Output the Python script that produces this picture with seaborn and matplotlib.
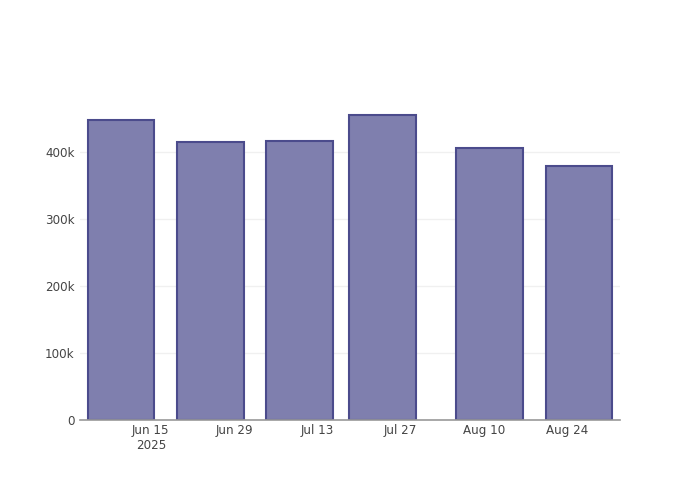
import pandas as pd
import matplotlib
matplotlib.use("Agg")
import matplotlib.pyplot as plt
import matplotlib.dates as mdates
from matplotlib.ticker import FuncFormatter
import seaborn as sns

# values
dates = ["2025-06-10", "2025-06-25", "2025-07-10", "2025-07-24", "2025-08-11", "2025-08-26"]
values = [448000, 415500, 417000, 455000, 407000, 380000]
tick_dates = ["2025-06-15", "2025-06-29", "2025-07-13", "2025-07-27", "2025-08-10", "2025-08-24"]
tick_labels = ["Jun 15\n2025", "Jun 29", "Jul 13", "Jul 27", "Aug 10", "Aug 24"]
y_ticks = [0, 100000, 200000, 300000, 400000]

sns.set_style("white")
plt.rcParams["font.family"] = ["DejaVu Sans"]

df = pd.DataFrame({"x": mdates.date2num(pd.to_datetime(dates)), "y": values})

fig = plt.figure(figsize=(7, 5), dpi=100)
ax = fig.add_axes([80 / 700, 80 / 500, 540 / 700, 320 / 500])

sns.barplot(data=df, x="x", y="y", native_scale=True, width=0.8,
            color="#7f7fae", edgecolor="#4b4b8c", linewidth=1.5,
            saturation=1, ax=ax)

tx = mdates.date2num(pd.to_datetime(tick_dates))
ax.set_xticks(tx)
ax.set_xticklabels(tick_labels)
ax.set_xlim(tx[0] - 11.9, tx[0] + 78.9)
ax.set_ylim(0, 478000)
ax.set_yticks(y_ticks)
ax.yaxis.set_major_formatter(FuncFormatter(lambda v, p: "0" if v == 0 else f"{int(v / 1000)}k"))

ax.grid(axis="y", color="#f0f0f0", linewidth=1)
ax.set_axisbelow(True)
for s in ["top", "right", "left"]:
    ax.spines[s].set_visible(False)
ax.spines["bottom"].set_color("#999999")
ax.spines["bottom"].set_linewidth(1.2)
ax.tick_params(axis="both", length=0, labelsize=8.6, labelcolor="#444444")
ax.tick_params(axis="y", pad=4)
ax.tick_params(axis="x", pad=3)
ax.set_xlabel("")
ax.set_ylabel("")

fig.savefig("out.png", dpi=100)
